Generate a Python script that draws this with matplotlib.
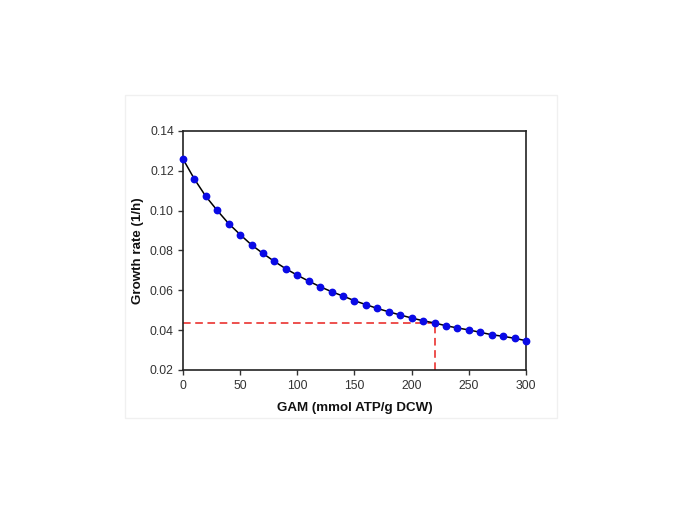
import numpy as np
import matplotlib
matplotlib.use("Agg")
import matplotlib.pyplot as plt
from matplotlib.patches import Rectangle

# ---------------------------
# DATA
# ---------------------------
gam = [0, 10, 20, 30, 40, 50, 60, 70, 80, 90, 100, 110, 120, 130, 140, 150,
       160, 170, 180, 190, 200, 210, 220, 230, 240, 250, 260, 270, 280, 290, 300]
growth = [0.1260, 0.1159, 0.1072, 0.1001, 0.0935, 0.0880, 0.0828, 0.0785,
          0.0745, 0.0708, 0.0676, 0.0646, 0.0618, 0.0593, 0.0571, 0.0548,
          0.0528, 0.0509, 0.0492, 0.0476, 0.0461, 0.0447, 0.0436, 0.0422,
          0.0411, 0.0401, 0.0389, 0.0377, 0.0369, 0.0359, 0.0347]
gam_marker = 220
growth_marker = 0.0437

xticks = [0, 50, 100, 150, 200, 250, 300]
yticks = [0.02, 0.04, 0.06, 0.08, 0.10, 0.12, 0.14]

plt.rcParams["font.family"] = ["Liberation Sans", "DejaVu Sans"]

fig = plt.figure(figsize=(6.85, 5.13), dpi=100)

# faint frame of the original image panel
fig.patches.append(Rectangle((125 / 685, 1 - 418 / 513), 432 / 685, 323 / 513,
                             transform=fig.transFigure, fill=False,
                             edgecolor="#f0f0f0", linewidth=1))

ax = fig.add_axes([0.267, 0.2788, 0.501, 0.4659])

# red dashed guide lines
ax.plot([0, gam_marker], [growth_marker, growth_marker], color="#e8211e",
        linestyle=(0, (5, 3)), linewidth=1.1, zorder=2)
ax.plot([gam_marker, gam_marker], [0.02, growth_marker], color="#e8211e",
        linestyle=(0, (5, 3)), linewidth=1.1, zorder=2)

ax.plot(gam, growth, color="black", linewidth=1.1, zorder=3)
ax.plot(gam, growth, linestyle="none", marker="o", markersize=4.6,
        markerfacecolor="#0a0ae6", markeredgecolor="#0a0ae6", zorder=4,
        clip_on=False)

ax.set_xlim(0, 300)
ax.set_ylim(0.02, 0.14)
ax.set_xticks(xticks)
ax.set_yticks(yticks)
ax.set_yticklabels([f"{v:.2f}" for v in yticks])

ax.tick_params(direction="out", length=3.5, width=1, labelsize=8.8, colors="#333333",
               top=False, right=False)
ax.tick_params(axis="x", pad=4)
ax.tick_params(axis="y", pad=3)
for s in ax.spines.values():
    s.set_linewidth(1.2)
    s.set_color("#222222")

ax.set_xlabel("GAM (mmol ATP/g DCW)", fontsize=9.6, fontweight="bold", labelpad=7,
              color="#111111")
ax.set_ylabel("Growth rate (1/h)", fontsize=9.6, fontweight="bold", labelpad=4,
              color="#111111")

plt.savefig("out.png", dpi=100)
